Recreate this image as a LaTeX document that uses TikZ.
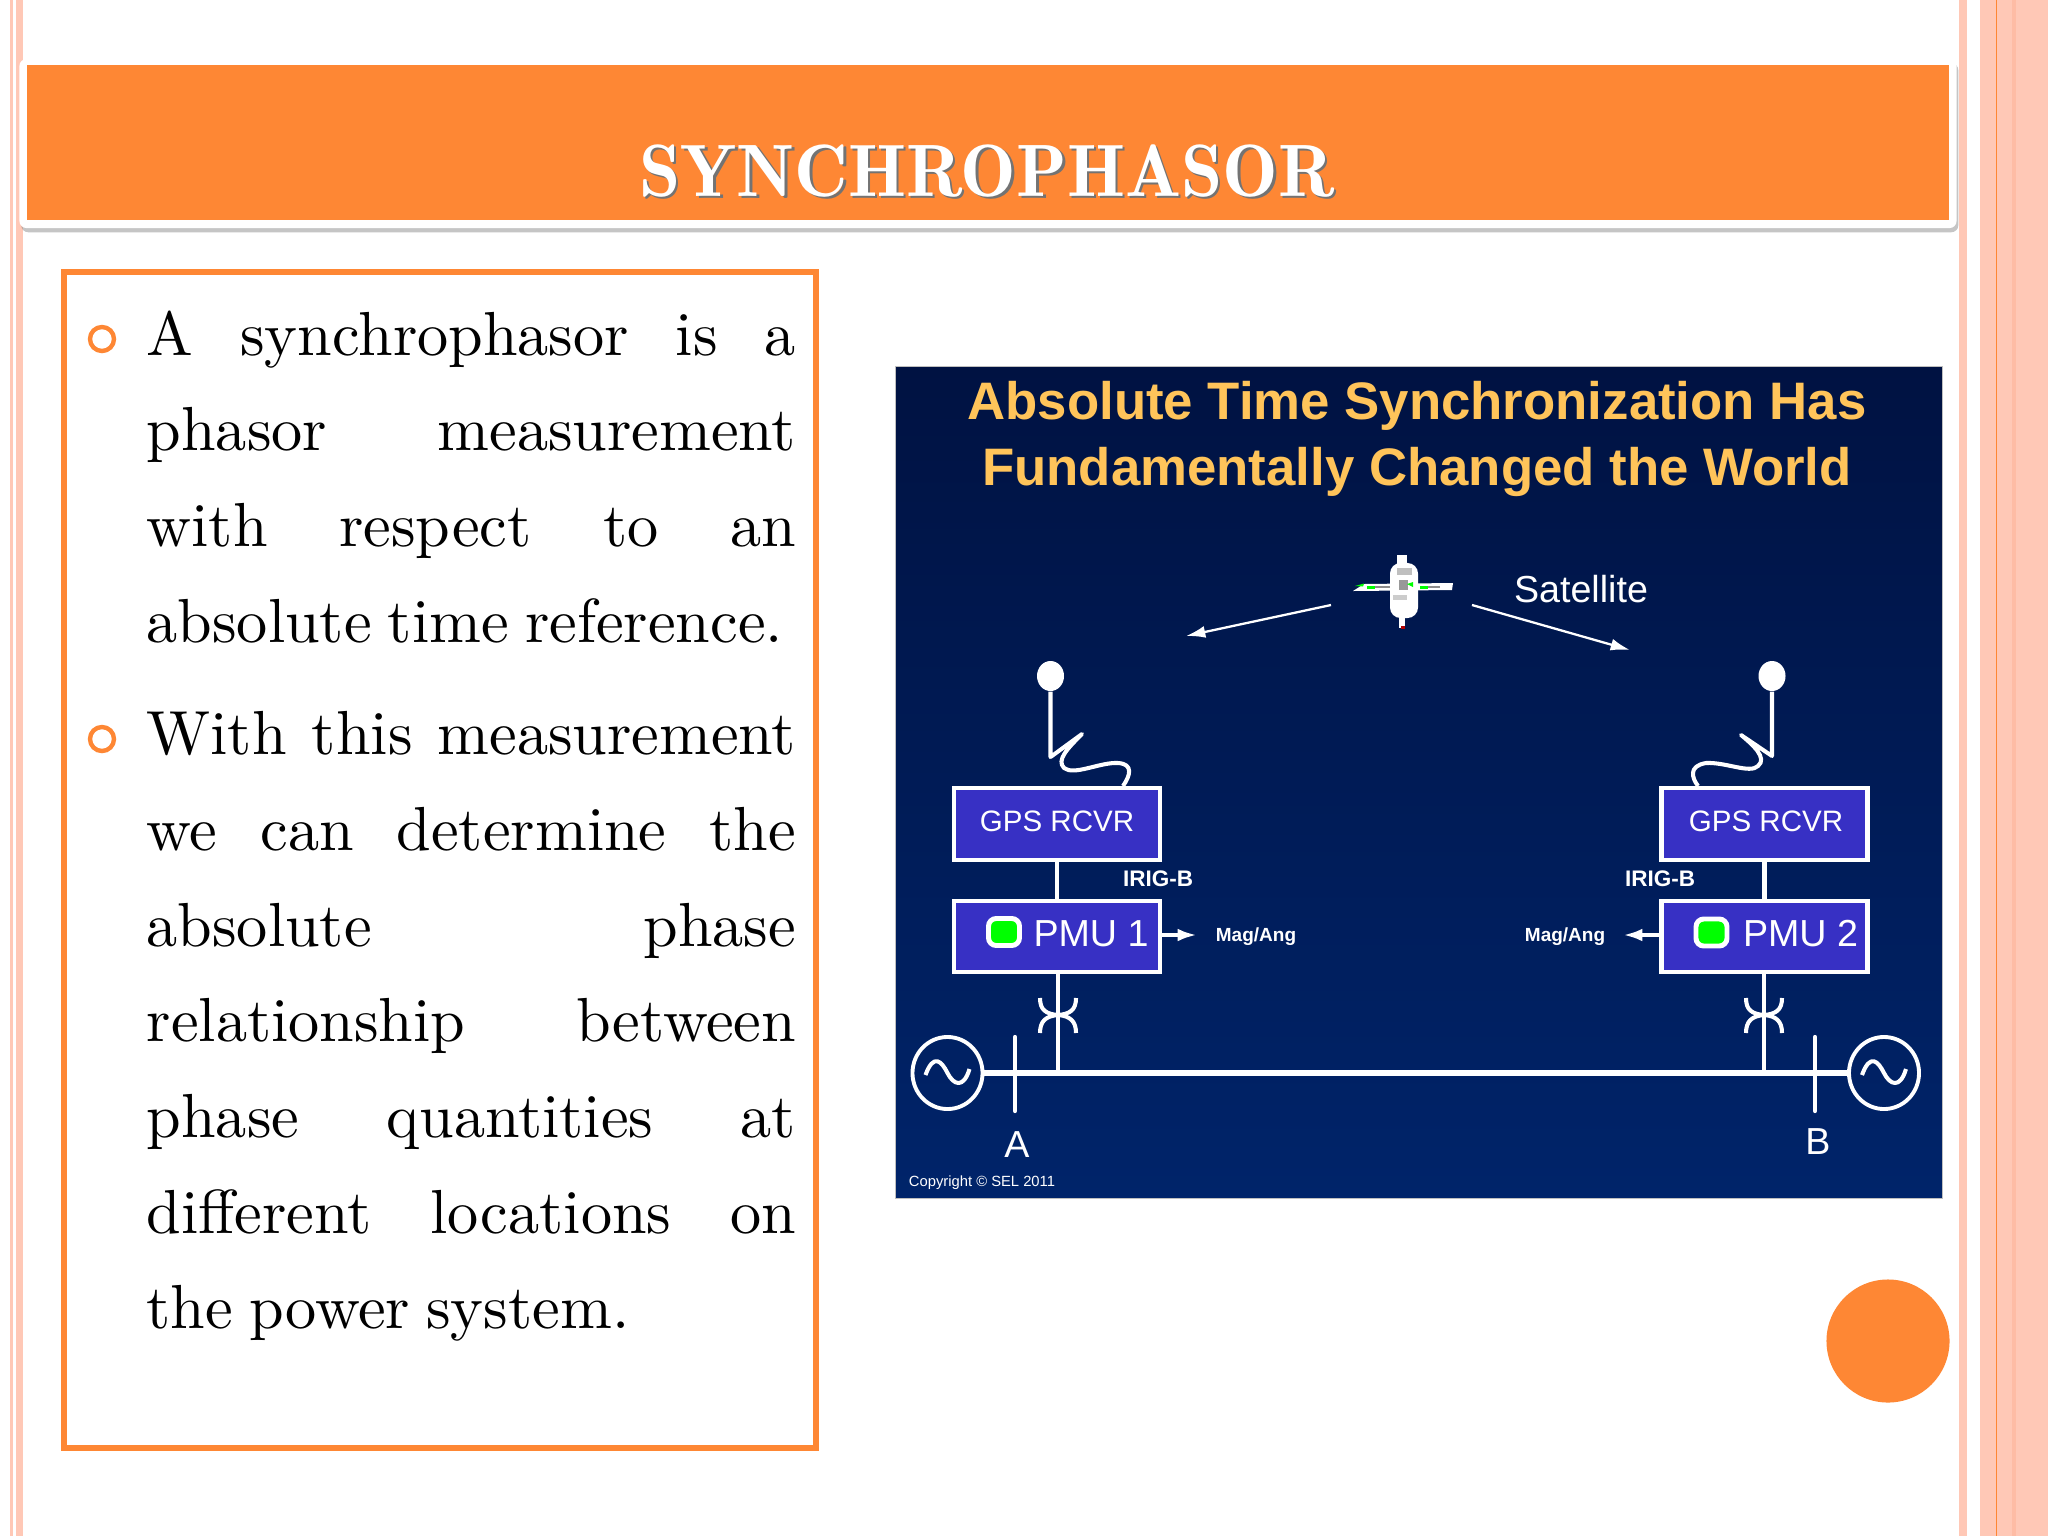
\documentclass[tikz,border=0pt]{standalone}
\usepackage{fontspec}
\setsansfont{Liberation Sans}
\newfontfamily\bodyfont{lmroman10-regular}[Extension=.otf]
\newfontfamily\titlefont{lmromandemi10-regular}[Extension=.otf]
\usepackage{xcolor}
\definecolor{band}{RGB}{254,135,52}
\definecolor{pale}{RGB}{255,200,182}
\definecolor{paledk}{RGB}{254,188,165}
\definecolor{navytop}{RGB}{0,18,66}
\definecolor{navybot}{RGB}{0,36,106}
\definecolor{boxblue}{RGB}{55,48,196}
\definecolor{gold}{RGB}{255,196,90}
\usetikzlibrary{calc,positioning,shadows,arrows.meta,shapes.geometric}
\newcommand{\jline}[1]{\hbox to \linewidth{\spaceskip=.25em plus 1fil #1}\par}
\newcommand{\lastline}[1]{\hbox{\spaceskip=.26em #1}}
\tikzset{
  strip/.style={draw=none,fill=pale},
  bodytext/.style={anchor=north west,inner sep=0pt,text width=6.49cm,font=\bodyfont\fontsize{17.7}{27.2}\selectfont},
  bullet/.style={circle,draw=band,line width=1.25pt,fill=white,inner sep=0pt,minimum size=0.24cm},
  instr/.style={rectangle,draw=white,fill=boxblue,line width=1.25pt,minimum width=2.056cm},
  led/.style={rectangle,rounded corners=2.2pt,draw=white,fill=green,line width=1.4pt,minimum width=0.31cm,minimum height=0.27cm,inner sep=0pt},
  gen/.style={ellipse,draw=white,line width=1.1pt,minimum width=0.7cm,minimum height=0.72cm,inner sep=0pt},
  lab/.style={text=white,inner sep=0pt,font=\sffamily\fontsize{10.7}{12}\selectfont},
  gpslab/.style={text=white,inner sep=0pt,font=\sffamily\fontsize{8.4}{10}\selectfont},
  smalllab/.style={text=white,inner sep=0pt,font=\sffamily\bfseries\fontsize{5.4}{6}\selectfont},
  iriglab/.style={text=white,inner sep=0pt,font=\sffamily\bfseries\fontsize{6.4}{7}\selectfont},
  heading/.style={text=gold,inner sep=0pt,font=\sffamily\bfseries\fontsize{15}{16}\selectfont},
  wire/.style={draw=white,line width=1.2pt},
  feed/.style={draw=white,line width=1.15pt,line join=round},
  sig/.style={draw=white,line width=1.1pt,-{Latex[length=5.5pt,width=3.6pt]}},
  beam/.style={draw=white,line width=0.65pt,-{Latex[length=5.5pt,width=3.4pt]}},
  dish/.style={ellipse,fill=white,minimum width=0.27cm,minimum height=0.3cm,inner sep=0pt},
}
\begin{document}
\begin{tikzpicture}[x=0.01cm,y=-0.01cm]
  \useasboundingbox (0,0) rectangle (2048,1536);
  \fill[white] (0,0) rectangle (2048,1536);
  % page edges
  \fill[strip] (10,0) rectangle (13,1536);
  \fill[strip] (16,0) rectangle (23,1536);
  \fill[strip] (1959,0) rectangle (1967,1536);
  \fill[strip] (1980,0) rectangle (2048,1536);
  \fill[paledk] (2012,0) rectangle (2016,1536);
  \fill[band] (1995.5,0) rectangle (1997,1536);
  % title
  \node[draw=none,fill=white,rounded corners=2pt,minimum width=19.36cm,minimum height=1.69cm,
    drop shadow={shadow xshift=0.5pt,shadow yshift=-1.2pt,opacity=.45}] (frame) at (988,143.5) {};
  \node[fill=band,minimum width=19.2cm,minimum height=1.55cm,inner sep=0pt] (band) at (988,142.5) {};
  \node[text=black!55,font=\titlefont\fontsize{21.1}{24}\selectfont] at (989.5,173) {SYNCHROPHASOR};
  \node[text=white,font=\titlefont\fontsize{21.1}{24}\selectfont] (title) at (987,171) {SYNCHROPHASOR};
  % left text
  \node[rectangle,draw=band,line width=1.7pt,minimum width=7.52cm,minimum height=11.76cm] (textbox) at (440,860) {};
  \node[bullet] (b1) at (102,339) {};
  \node[bullet] (b2) at (102,739) {};
  \node[bodytext] (para1) at (146,310) {\jline{A synchrophasor is a}\jline{phasor measurement}\jline{with respect to an}\lastline{absolute time reference.}};
  \node[bodytext] (para2) at (146,711) {\jline{With this measurement}\jline{we can determine the}\jline{absolute phase}\jline{relationship between}\jline{phase quantities at}\jline{different locations on}\lastline{the power system.}};
  % picture
  \node[draw=black!25,line width=0.3pt,top color=navytop,bottom color=navybot,minimum width=10.46cm,minimum height=8.31cm,inner sep=0pt] (panel) at (1419,782.5) {};
  \node[heading] (head1) at (1417,406) {Absolute Time Synchronization Has};
  \node[heading] (head2) at (1417,472) {Fundamentally Changed the World};
  % satellite
  \fill[white] (1353,591) -- (1364,584) -- (1453,583) -- (1452,590) -- cycle;
  \fill[black!45] (1373,586) rectangle (1390,588);
  \fill[black!45] (1428,586) rectangle (1440,588);
  \fill[green] (1355,586) -- (1364,583.5) -- (1363,586.5) -- cycle;
  \fill[green] (1367,586) rectangle (1375,588.5);
  \fill[green] (1420,586) rectangle (1428,588.5);
  \node[fill=white,rounded corners=3pt,minimum width=0.28cm,minimum height=0.55cm,inner sep=0pt] (sat) at (1404,590.5) {};
  \fill[white] (1397,555) rectangle (1407,564);
  \fill[white] (1399,618) rectangle (1405,628);
  \fill[black!25] (1397,568) rectangle (1412,575);
  \fill[black!40] (1399,580) rectangle (1408,590);
  \fill[black!20] (1393,595) rectangle (1407,600);
  \fill[green] (1407,584) -- (1413,582) -- (1413,587) -- cycle;
  \fill[red!70!black] (1401,626) rectangle (1405,629);
  \coordinate (satl) at (1331,605);
  \coordinate (satr) at (1472,605);
  \coordinate (beaml) at (1186,636);
  \coordinate (beamr) at (1630,650);
  \draw[beam] (satl) -- (beaml);
  \draw[beam] (satr) -- (beamr);
  \node[lab] (satlab) at (1581,589) {Satellite};
  % instruments
  \node[instr,minimum height=0.716cm] (gps1) at (1057,824) {};
  \node[instr,minimum height=0.71cm] (pmu1) at (1057,936.5) {};
  \node[instr,minimum height=0.716cm] (gps2) at (1764.5,824) {};
  \node[instr,minimum height=0.71cm] (pmu2) at (1764.5,936.5) {};
  \node[gpslab] (gps1lab) at (1057,821) {GPS RCVR};
  \node[gpslab] (gps2lab) at (1766,821) {GPS RCVR};
  \node[led] (led1) at (1004,932) {};
  \node[led] (led2) at (1711.5,932.5) {};
  \node[lab] (pmu1lab) at (1091,934) {PMU 1};
  \node[lab] (pmu2lab) at (1800.5,934) {PMU 2};
  \node[iriglab] (irig1) at (1158,879) {IRIG-B};
  \node[iriglab] (irig2) at (1660,879) {IRIG-B};
  \node[smalllab] (mag1) at (1256,936.5) {Mag/Ang};
  \node[smalllab] (mag2) at (1565,936.5) {Mag/Ang};
  \coordinate (out1) at (1197,935);
  \coordinate (out2) at (1623,935);
  \draw[sig] (pmu1.east |- out1) -- (out1);
  \draw[sig] (pmu2.west |- out2) -- (out2);
  \draw[wire] (gps1) -- (pmu1);
  \draw[wire] (gps2) -- (pmu2);
  % network
  \node[gen] (gen1) at (947.5,1073) {};
  \node[gen] (gen2) at (1884,1073) {};
  \draw[wire,line width=1.45pt] (gen1) -- (gen2);
  \coordinate (tap1) at (1058,1073);
  \coordinate (tap2) at (1764,1073);
  \draw[wire] (pmu1.south -| tap1) -- (tap1);
  \draw[wire] (pmu2.south -| tap2) -- (tap2);
  \draw[wire,line cap=round] (1015,1037) -- (1015,1111);
  \draw[wire,line cap=round] (1815,1037) -- (1815,1111);
  \foreach \cx/\nm in {1058/ct1,1764/ct2} {
    \coordinate (\nm) at (\cx,1015);
    \draw[feed] ($(\nm)+(-18,-17)$) .. controls ($(\nm)+(-18,-5)$) and ($(\nm)+(-12,-1)$) .. (\nm)
      .. controls ($(\nm)+(12,-1)$) and ($(\nm)+(18,-5)$) .. ($(\nm)+(18,-17)$);
    \draw[feed] ($(\nm)+(-18,18)$) .. controls ($(\nm)+(-18,6)$) and ($(\nm)+(-12,1)$) .. (\nm)
      .. controls ($(\nm)+(12,1)$) and ($(\nm)+(18,6)$) .. ($(\nm)+(18,18)$);
  }
  \foreach \nm in {gen1,gen2} {
    \draw[feed] ($(\nm)+(-22,2)$) .. controls ($(\nm)+(-14,-20)$) and ($(\nm)+(-6,-12)$) .. ($(\nm)+(0,0)$)
      .. controls ($(\nm)+(6,12)$) and ($(\nm)+(16,16)$) .. ($(\nm)+(22,-4)$);
  }
  \node[lab] (lblA) at (1017,1145) {A};
  \node[lab] (lblB) at (1818,1142) {B};
  \node[text=white,inner sep=0pt,font=\sffamily\fontsize{4.2}{5}\selectfont] (copy) at (982,1183) {Copyright © SEL 2011};
  % antennas
  \node[dish] (dish1) at (1050.5,676) {};
  \node[dish] (dish2) at (1772,676) {};
  \coordinate (kink1) at (1050.5,757);
  \coordinate (kink2) at (1772,756);
  \draw[feed] (dish1) -- (kink1) -- (1082,734) .. controls (1068,748) and (1056,760) .. (1064,768)
    .. controls (1074,776) and (1100,762) .. (1118,763) .. controls (1134,764) and (1130,776) .. (gps1.north -| 1123,786);
  \draw[feed] (dish2) -- (kink2) -- (1741,735) .. controls (1752,744) and (1768,758) .. (1758,766)
    .. controls (1750,774) and (1726,762) .. (1706,763) .. controls (1688,766) and (1692,778) .. (gps2.north -| 1698,786);
  % page corner
  \node[circle,fill=band,minimum size=1.23cm,inner sep=0pt] (dot) at (1888,1341) {};
\end{tikzpicture}
\end{document}
